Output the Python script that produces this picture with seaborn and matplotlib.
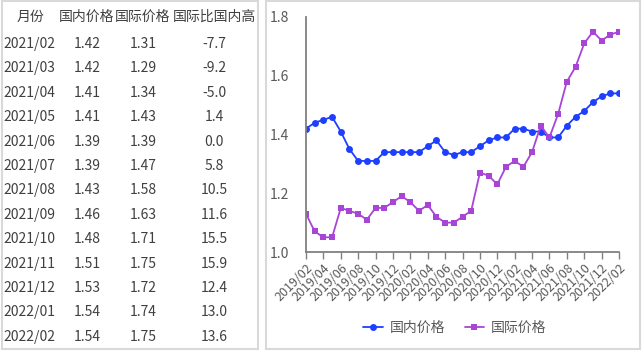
import numpy as np
import pandas as pd
import seaborn as sns
import matplotlib.pyplot as plt
from matplotlib.patches import Rectangle

# monthly prices, 2019/02 .. 2022/02
months = pd.date_range("2019-02-01", periods=37, freq="MS").strftime("%Y/%m").tolist()
domestic = [1.42, 1.44, 1.45, 1.46, 1.41, 1.35, 1.31, 1.31, 1.31, 1.34,
            1.34, 1.34, 1.34, 1.34, 1.36, 1.38, 1.34, 1.33, 1.34, 1.34,
            1.36, 1.38, 1.39, 1.39, 1.42, 1.42, 1.41, 1.41, 1.39, 1.39,
            1.43, 1.46, 1.48, 1.51, 1.53, 1.54, 1.54]
international = [1.13, 1.07, 1.05, 1.05, 1.15, 1.14, 1.13, 1.11, 1.15, 1.15,
                 1.17, 1.19, 1.17, 1.14, 1.16, 1.12, 1.10, 1.10, 1.12, 1.14,
                 1.27, 1.26, 1.23, 1.29, 1.31, 1.29, 1.34, 1.43, 1.39, 1.47,
                 1.58, 1.63, 1.71, 1.75, 1.72, 1.74, 1.75]

# table on the left
table_header = ["月份", "国内价格", "国际价格", "国际比国内高"]
table_months = ["2021/02", "2021/03", "2021/04", "2021/05", "2021/06", "2021/07",
                "2021/08", "2021/09", "2021/10", "2021/11", "2021/12", "2022/01",
                "2022/02"]
table_domestic = ["1.42", "1.42", "1.41", "1.41", "1.39", "1.39", "1.43",
                  "1.46", "1.48", "1.51", "1.53", "1.54", "1.54"]
table_international = ["1.31", "1.29", "1.34", "1.43", "1.39", "1.47", "1.58",
                       "1.63", "1.71", "1.75", "1.72", "1.74", "1.75"]
table_diff = ["-7.7", "-9.2", "-5.0", "1.4", "0.0", "5.8", "10.5", "11.6",
              "15.5", "15.9", "12.4", "13.0", "13.6"]

sns.set_theme(style="white")
plt.rcParams["font.family"] = ["Noto Sans CJK SC", "DejaVu Sans"]

W, H = 644, 352
fig = plt.figure(figsize=(W / 100, H / 100), dpi=100)

# panel borders
for x0, x1 in [(2, 258), (266, 640)]:
    fig.patches.append(Rectangle((x0 / W, 1 - 349 / H), (x1 - x0) / W, 348 / H,
                                 transform=fig.transFigure, fill=False,
                                 edgecolor="#d9d9d9", linewidth=1.5))

txt_color = "#404040"
fs = 10
col_x = [30, 87, 143, 214]
fig.text(col_x[0] / W, 1 - 17 / H, table_header[0], ha="center", va="center",
         fontsize=fs, color=txt_color)
for cx, h in zip(col_x[1:], table_header[1:]):
    fig.text(cx / W, 1 - 17 / H, h, ha="center", va="center", fontsize=fs,
             color=txt_color)
for i in range(len(table_months)):
    y = 1 - (44 + i * 24.4) / H
    fig.text(3 / W, y, table_months[i], ha="left", va="center", fontsize=fs,
             color=txt_color)
    fig.text(col_x[1] / W, y, table_domestic[i], ha="center", va="center",
             fontsize=fs, color=txt_color)
    fig.text(col_x[2] / W, y, table_international[i], ha="center", va="center",
             fontsize=fs, color=txt_color)
    fig.text(col_x[3] / W, y, table_diff[i], ha="center", va="center",
             fontsize=fs, color=txt_color)

# line chart on the right
ax = fig.add_axes([306 / W, 1 - 252 / H, (619 - 306) / W, (252 - 17) / H])
xs = np.arange(len(months))
blue = "#1f3fff"
purple = "#a845d6"
sns.lineplot(x=xs, y=domestic, ax=ax, color=blue, marker="o", markersize=5,
             markeredgewidth=0, linewidth=1.3, label="国内价格")
sns.lineplot(x=xs, y=international, ax=ax, color=purple, marker="s",
             markersize=5, markeredgewidth=0, linewidth=1.3, label="国际价格")

ax.set_xlim(0, len(months) - 1)
ax.set_ylim(1.0, 1.8)
ax.set_yticks([1.0, 1.2, 1.4, 1.6, 1.8])
ax.set_yticklabels([f"{v:.1f}" for v in [1.0, 1.2, 1.4, 1.6, 1.8]])
ax.set_xticks(xs[::2])
ax.set_xticklabels(months[::2], rotation=45, ha="right", rotation_mode="anchor")
ax.tick_params(axis="x", bottom=True, length=5, width=1, color="#808080",
               labelsize=9, labelcolor="#595959", pad=2)
ax.tick_params(axis="y", left=False, labelsize=10, labelcolor="#595959", pad=6)
for s in ["top", "right"]:
    ax.spines[s].set_visible(False)
for s in ["left", "bottom"]:
    ax.spines[s].set_color("#808080")
    ax.spines[s].set_linewidth(1.3)
ax.set_facecolor("none")

ax.get_legend().remove()
handles, labels = ax.get_legend_handles_labels()
fig.legend(handles, labels, loc="center", bbox_to_anchor=(455 / W, 1 - 328 / H),
           ncol=2, frameon=False, fontsize=10, handlelength=1.4,
           columnspacing=1.4, handletextpad=0.5, labelcolor="#595959")

fig.savefig("out.png", dpi=100)
